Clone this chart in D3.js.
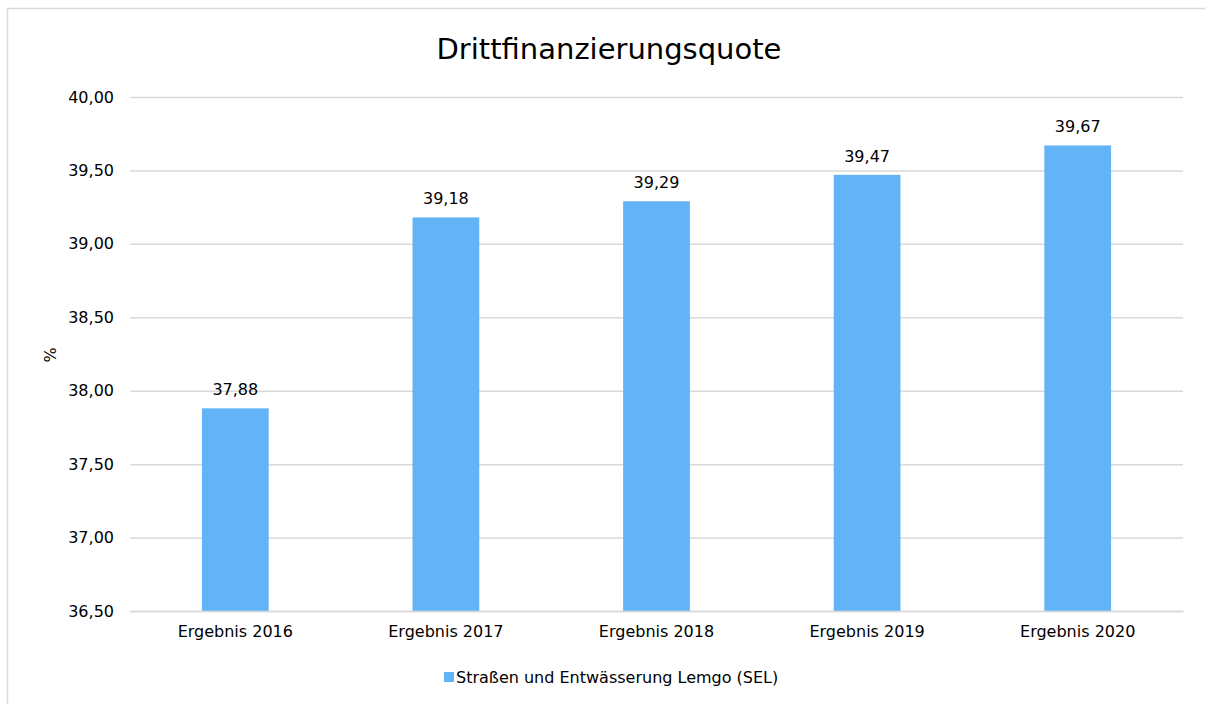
<!DOCTYPE html>
<html><head><meta charset="utf-8">
<script src="https://cdn.jsdelivr.net/npm/d3@7"></script>
<style>html,body{margin:0;background:#fff;overflow:hidden;} svg{display:block;} text{font-family:"DejaVu Sans",Verdana,sans-serif;fill:#000;}</style>
</head><body><svg id="c" width="1205" height="704"></svg>
<script>
const title = "Drittfinanzierungsquote";
const categories = ["Ergebnis 2016","Ergebnis 2017","Ergebnis 2018","Ergebnis 2019","Ergebnis 2020"];
const values = [37.88, 39.18, 39.29, 39.47, 39.67];
const yTicks = [36.5, 37, 37.5, 38, 38.5, 39, 39.5, 40];
const seriesName = "Straßen und Entwässerung Lemgo (SEL)";
const yLabel = "%";

const svg = d3.select("#c");
const fmt = v => d3.format(".2f")(v).replace(".", ",");
const color = "#63b4f6";
const grid = "#d9d9d9";

svg.append("rect").attr("x",7.5).attr("y",8.5).attr("width",1230).attr("height",730)
  .attr("fill","#fff").attr("stroke",grid).attr("stroke-width",1.5);

const mLeft = 130, mRight = 1183, mTop = 97, mBottom = 611;
const x = d3.scaleBand().domain(categories).range([mLeft,mRight]).paddingInner(0.683).paddingOuter(0.3415);
const y = d3.scaleLinear().domain([36.5,40]).range([mBottom,mTop]);

const yAxis = svg.append("g").attr("transform",`translate(${mLeft},0)`)
  .call(d3.axisLeft(y).tickValues(yTicks).tickFormat(fmt).tickSize(-(mRight-mLeft)).tickPadding(16));
yAxis.select(".domain").remove();
yAxis.selectAll(".tick line").attr("stroke",grid).attr("stroke-width",1.5);
yAxis.selectAll(".tick text").attr("font-size",16).attr("fill","#000");

svg.selectAll(".bar").data(values).join("rect").attr("class","bar")
  .attr("x",(d,i)=>x(categories[i])).attr("width",x.bandwidth())
  .attr("y",d=>y(d)).attr("height",d=>y(36.5)-y(d)).attr("fill",color);

svg.selectAll(".lbl").data(values).join("text").attr("class","lbl")
  .attr("x",(d,i)=>x(categories[i])+x.bandwidth()/2).attr("y",d=>y(d)-13)
  .attr("text-anchor","middle").attr("font-size",16).text(fmt);

const xAxis = svg.append("g").attr("transform",`translate(0,${mBottom})`)
  .call(d3.axisBottom(x).tickSize(0).tickPadding(15));
xAxis.select(".domain").attr("stroke",grid).attr("stroke-width",1.5);
xAxis.selectAll(".tick text").attr("font-size",16).attr("fill","#000");

svg.append("text").attr("x",609).attr("y",59).attr("text-anchor","middle").attr("font-size",29).text(title);

svg.append("text").attr("transform","translate(56,355) rotate(-90)").attr("text-anchor","middle")
  .attr("font-size",16).text(yLabel);

const lg = svg.append("g");
lg.append("rect").attr("x",444).attr("y",672).attr("width",10).attr("height",10).attr("fill",color);
lg.append("text").attr("x",456).attr("y",683).attr("font-size",16).text(seriesName);
</script></body></html>
